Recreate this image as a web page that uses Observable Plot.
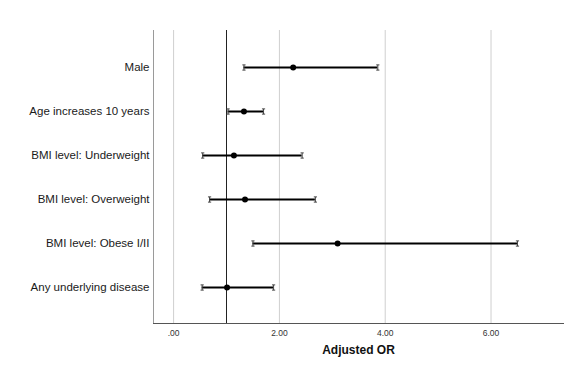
<!DOCTYPE html>
<html>
<head>
<meta charset="utf-8">
<script src="https://cdn.jsdelivr.net/npm/d3@7"></script>
<script src="https://cdn.jsdelivr.net/npm/@observablehq/plot@0.6"></script>
<style>
  html, body { margin: 0; padding: 0; background: #fff; }
  #chart svg { display: block; }
</style>
</head>
<body>
<div id="chart"></div>
<script>
const labels = [
  "Male",
  "Age increases 10 years",
  "BMI level: Underweight",
  "BMI level: Overweight",
  "BMI level: Obese I/II",
  "Any underlying disease"
];
const estimates = [2.26, 1.33, 1.14, 1.35, 3.10, 1.01];
const lowers    = [1.33, 1.03, 0.55, 0.68, 1.50, 0.54];
const uppers    = [3.86, 1.70, 2.43, 2.68, 6.50, 1.89];
const tickValues = [0, 2, 4, 6];
const tickLabels = [".00", "2.00", "4.00", "6.00"];
const referenceOR = [1];
const xDomain = [-0.38, 7.37];
const axisTitle = "Adjusted OR";

const data = labels.map((label, i) => ({label, est: estimates[i], lo: lowers[i], hi: uppers[i]}));

const capSymbol = {
  draw(ctx, size) {
    const r = Math.sqrt(size / Math.PI);
    const w = 1.6;
    ctx.moveTo(0, -r); ctx.lineTo(0, r);
    ctx.moveTo(-w, -r); ctx.lineTo(w, -r);
    ctx.moveTo(-w, r); ctx.lineTo(w, r);
  }
};

const plot = Plot.plot({
  width: 586,
  height: 369,
  marginTop: 30,
  marginBottom: 46,
  marginLeft: 153,
  marginRight: 23,
  style: {fontFamily: "'Liberation Sans', Arial, sans-serif", background: "#fff"},
  x: {domain: xDomain, label: null},
  y: {type: "point", domain: labels, range: [67, 287], padding: 0, label: null},
  marks: [
    Plot.gridX(tickValues, {stroke: "#cfcfcf", strokeOpacity: 1, strokeWidth: 1}),
    Plot.ruleX([xDomain[0]], {stroke: "#9a9a9a", strokeWidth: 1}),
    Plot.frame({anchor: "bottom", stroke: "#555", strokeWidth: 1}),
    Plot.ruleX(referenceOR, {stroke: "#222", strokeWidth: 1}),
    Plot.ruleY(data, {y: "label", x1: "lo", x2: "hi", stroke: "#000", strokeWidth: 2.2}),
    Plot.dot(data, {x: "lo", y: "label", symbol: capSymbol, r: 2.6, stroke: "#444", fill: "none", strokeWidth: 1}),
    Plot.dot(data, {x: "hi", y: "label", symbol: capSymbol, r: 2.6, stroke: "#444", fill: "none", strokeWidth: 1}),
    Plot.dot(data, {x: "est", y: "label", r: 3, fill: "#000", stroke: "none"}),
    Plot.axisX({ticks: tickValues, tickFormat: (d) => tickLabels[tickValues.indexOf(d)], tickSize: 0, tickPadding: 6, fontSize: 8.5, fill: "#333", label: null}),
    Plot.axisY({tickSize: 0, tickPadding: 4, fontSize: 11.5, fill: "#1a1a1a", label: null}),
    Plot.text([axisTitle], {frameAnchor: "bottom", dy: 30, fontSize: 12, fontWeight: "bold", fill: "#111"})
  ]
});
document.getElementById("chart").appendChild(plot);
</script>
</body>
</html>
